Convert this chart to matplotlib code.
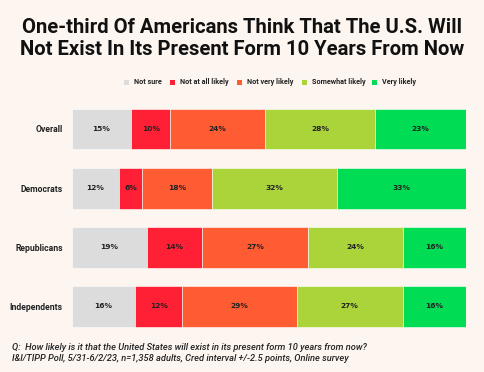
import matplotlib
matplotlib.use("Agg")
import matplotlib.pyplot as plt
from matplotlib.patches import Rectangle
import numpy as np

categories = ["Overall", "Democrats", "Republicans", "Independents"]
series = ["Not sure", "Not at all likely", "Not very likely", "Somewhat likely", "Very likely"]
values = {
    "Not sure": [15, 12, 19, 16],
    "Not at all likely": [10, 6, 14, 12],
    "Not very likely": [24, 18, 27, 29],
    "Somewhat likely": [28, 32, 24, 27],
    "Very likely": [23, 33, 16, 16],
}
colors = ["#dcdcdc", "#ff2035", "#ff5c33", "#aad43a", "#00dd55"]
bg = "#fdf6f0"

title = "One-third Of Americans Think That The U.S. Will\nNot Exist In Its Present Form 10 Years From Now"
note1 = "Q:  How likely is it that the United States will exist in its present form 10 years from now?"
note2 = "I&I/TIPP Poll, 5/31-6/2/23, n=1,358 adults, Cred interval +/-2.5 points, Online survey"

narrow = ["Liberation Sans Narrow", "Roboto", "DejaVu Sans"]

fig = plt.figure(figsize=(4.85, 3.72), dpi=100, facecolor=bg)
ax = fig.add_axes([72/485, 1-336/372, (466-72)/485, (336-99.4)/372])
ax.set_facecolor(bg)

data = np.array([values[s] for s in series], dtype=float)
totals = data.sum(axis=0)
ypos = np.arange(len(categories))
left = np.zeros(len(categories))
for i, s in enumerate(series):
    w = data[i] / totals * 100
    ax.barh(ypos, w, left=left, height=0.69, color=colors[i], edgecolor="white", linewidth=0.4)
    for j in range(len(categories)):
        ax.text(left[j] + w[j] / 2, ypos[j], f"{int(data[i][j])}%", ha="center", va="center",
                fontsize=5.4, color="#222222", fontweight="bold", family="DejaVu Sans")
    left += w

ax.set_xlim(0, 100)
ax.set_ylim(3.5, -0.5)
ax.set_yticks(ypos)
ax.set_yticklabels(categories, fontsize=6.2, fontweight="bold", color="#222222", family=narrow)
ax.tick_params(axis="y", length=0, pad=6.5)
ax.set_xticks([])
for sp in ax.spines.values():
    sp.set_visible(False)

fig.text(0.5, 1-38.5/372, title, ha="center", va="center", fontsize=14.6, fontweight="bold",
         color="#111111", family=narrow, linespacing=1.17)

# legend
leg_x = [124, 170, 237, 302, 372]
for i, s in enumerate(series):
    x = leg_x[i] / 485
    fig.patches.append(Rectangle((x, 1-84.5/372), 5/485, 5/372, transform=fig.transFigure,
                                 facecolor=colors[i], edgecolor="none"))
    fig.text(x + 10.5/485, 1-82/372, s, ha="left", va="center", fontsize=5.2, color="#222222",
             fontweight="bold", family="Roboto")

fig.text(12/485, 1-348/372, note1, ha="left", va="center", fontsize=6.7, style="italic",
         fontweight="medium", color="#222222", family="Roboto")
fig.text(12/485, 1-358.5/372, note2, ha="left", va="center", fontsize=6.7, style="italic",
         fontweight="medium", color="#222222", family="Roboto")

fig.savefig("out.png", dpi=100, facecolor=bg)
